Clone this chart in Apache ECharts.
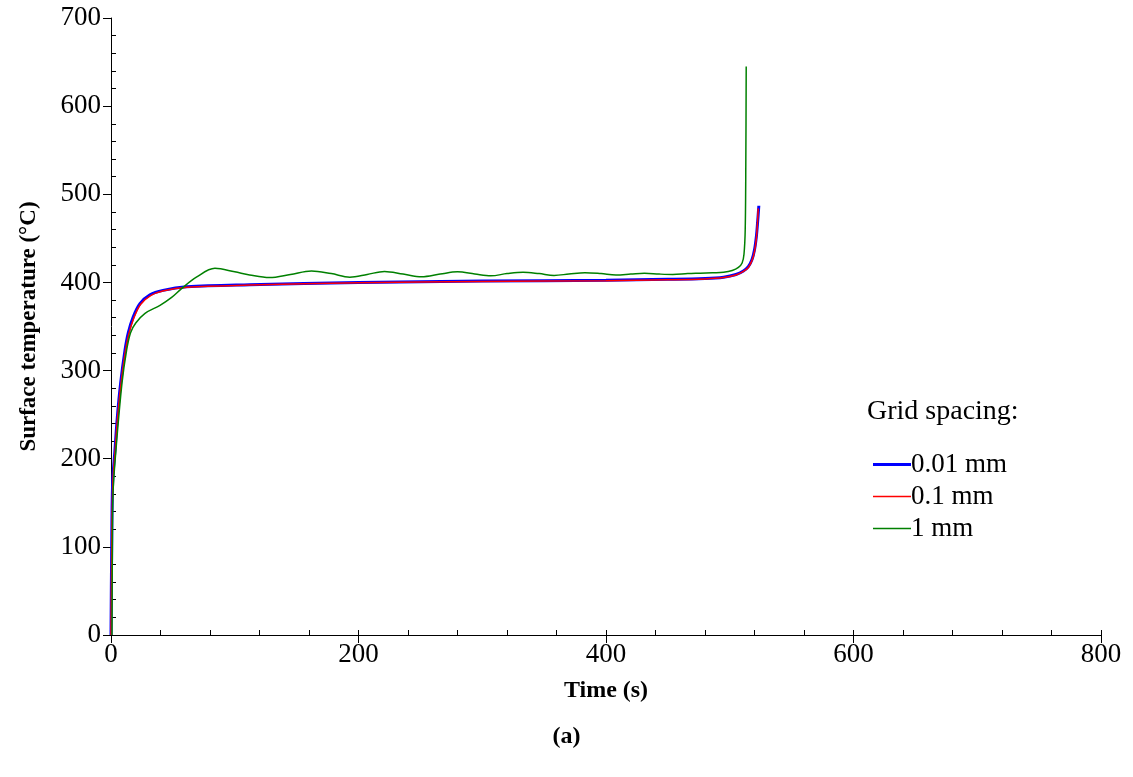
<!DOCTYPE html>
<html>
<head>
<meta charset="utf-8">
<script src="https://cdn.jsdelivr.net/npm/echarts@6/dist/echarts.min.js"></script>
<style>html,body{margin:0;padding:0;background:#fff}#c{width:1133px;height:777px}</style>
</head>
<body>
<div id="c"></div>
<script>
// ---- data ----
var xTicks = [0, 200, 400, 600, 800];
var yTicks = [0, 100, 200, 300, 400, 500, 600, 700];

var t001 = [0, 0.5, 1.3, 3.2, 5.1, 7.8, 11.3, 14, 18, 23.4, 31.5, 42, 61, 112, 200, 300, 400, 450, 480, 495, 505, 511, 515, 518, 520, 521.5, 522.5, 523.5];
var T001 = [0, 90, 172, 210, 247, 286, 323, 343, 361, 376, 386, 391, 395, 397.5, 400, 401.5, 402.5, 403.5, 404.5, 406, 409, 413, 418, 426, 437, 452, 468, 487];

var t01 = [0, 0.5, 1.4, 3.3, 5.2, 8, 11.5, 14.3, 18.3, 23.8, 32, 42.5, 61.5, 112, 200, 300, 400, 450, 480, 495, 505, 511, 515, 518, 520, 521.5, 522.3, 523];
var T01 = [0, 85, 170, 208, 245, 284, 321, 341, 359, 375, 385, 390.5, 394.5, 397, 399.5, 401, 402, 403, 404, 405.5, 408.5, 412.5, 417, 425, 435, 450, 465, 484];

var t1 = [0.8, 1.1, 1.6, 4, 8.9, 12.6, 15.8, 20, 27.5, 39.6, 49, 57, 69, 84, 100, 112, 128, 145, 162, 178, 193, 207, 221, 236, 251, 266, 280, 294, 307, 320, 333, 346, 358, 370, 383, 396, 408, 420, 431, 443, 454, 466, 476, 486, 495, 502, 507, 510, 511.5, 512.5, 513, 513.3];
var T1 = [0, 100, 160, 210, 286, 323, 343, 354, 365, 374, 383, 393, 406, 416, 412, 408.5, 405.5, 409, 413, 410, 406, 409, 412.5, 409.5, 406.5, 409.5, 412, 409.5, 407.5, 410, 411.5, 410, 408, 409.5, 411, 410, 408.5, 409.5, 410.5, 409.5, 409, 410, 410.5, 411, 411.5, 413.5, 417, 422, 432, 460, 540, 645];

var names = ['0.01 mm', '0.1 mm', '1 mm'];

function pairs(t, v) { return t.map(function (x, i) { return [x, v[i]]; }); }

var font = 'Liberation Serif';
var chart = echarts.init(document.getElementById('c'), null, { renderer: 'canvas' });

var axisCommonX = { type: 'value', min: 0, max: 800, interval: 200 };
var axisCommonY = { type: 'value', min: 0, max: 700, interval: 100 };

chart.setOption({
  animation: false,
  backgroundColor: '#ffffff',
  grid: { left: 111, right: 32, top: 18, bottom: 142, containLabel: false },
  title: [
    { text: 'Grid spacing:', left: 862, top: 393, textStyle: { fontFamily: font, fontSize: 28, fontWeight: 'normal', color: '#000' } },
    { text: '(a)', left: 'center', top: 720, textStyle: { fontFamily: font, fontSize: 24, fontWeight: 'bold', color: '#000' } }
  ],
  legend: {
    data: [
      { name: names[0], icon: 'path://M0,0H40V3H0Z' },
      { name: names[1], icon: 'path://M0,0H40V1.5H0Z' },
      { name: names[2], icon: 'path://M0,0H40V1.5H0Z' }
    ],
    orient: 'vertical',
    left: 868, top: 446,
    itemWidth: 38, itemHeight: 27, itemGap: 5,
    textStyle: { fontFamily: font, fontSize: 27, color: '#000', padding: [0, 0, 0, -5] },
    selectedMode: false
  },
  xAxis: [
    Object.assign({}, axisCommonX, {
      name: 'Time (s)', nameLocation: 'middle', nameGap: 44,
      nameTextStyle: { fontFamily: font, fontSize: 24, fontWeight: 'bold', color: '#000' },
      axisLine: { show: true, onZero: false, lineStyle: { color: '#000', width: 1 } },
      axisTick: { show: true, inside: false, length: 8, lineStyle: { color: '#000' } },
      minorTick: { show: false },
      axisLabel: { fontFamily: font, fontSize: 27, color: '#000', margin: 6 },
      splitLine: { show: false }
    }),
    Object.assign({}, axisCommonX, {
      position: 'bottom',
      axisLine: { show: false },
      axisTick: { show: true, inside: true, length: 5, lineStyle: { color: '#000' } },
      minorTick: { show: true, splitNumber: 5, length: 5, lineStyle: { color: '#000' } },
      axisLabel: { show: false },
      splitLine: { show: false }
    })
  ],
  yAxis: [
    Object.assign({}, axisCommonY, {
      name: 'Surface temperature (°C)', nameLocation: 'middle', nameGap: 70, nameRotate: 90,
      nameTextStyle: { fontFamily: font, fontSize: 23, fontWeight: 'bold', color: '#000' },
      axisLine: { show: true, onZero: false, lineStyle: { color: '#000', width: 1 } },
      axisTick: { show: true, inside: false, length: 8, lineStyle: { color: '#000' } },
      axisLabel: { fontFamily: font, fontSize: 27, color: '#000', margin: 10 },
      splitLine: { show: false }
    }),
    Object.assign({}, axisCommonY, {
      position: 'left',
      axisLine: { show: false },
      axisTick: { show: false, inside: true },
      minorTick: { show: true, splitNumber: 5, length: 5, lineStyle: { color: '#000' } },
      axisLabel: { show: false },
      splitLine: { show: false }
    })
  ],
  series: [
    { name: names[0], type: 'line', data: pairs(t001, T001), symbol: 'none', smooth: 0.35,
      lineStyle: { color: '#0000ff', width: 3 }, itemStyle: { color: '#0000ff' }, z: 2 },
    { name: names[1], type: 'line', data: pairs(t01, T01), symbol: 'none', smooth: 0.35,
      lineStyle: { color: '#ff0000', width: 1.5 }, itemStyle: { color: '#ff0000' }, z: 3 },
    { name: names[2], type: 'line', data: pairs(t1, T1), symbol: 'none', smooth: 0.35,
      lineStyle: { color: '#008000', width: 1.5 }, itemStyle: { color: '#008000' }, z: 4 }
  ]
});
</script>
</body>
</html>
